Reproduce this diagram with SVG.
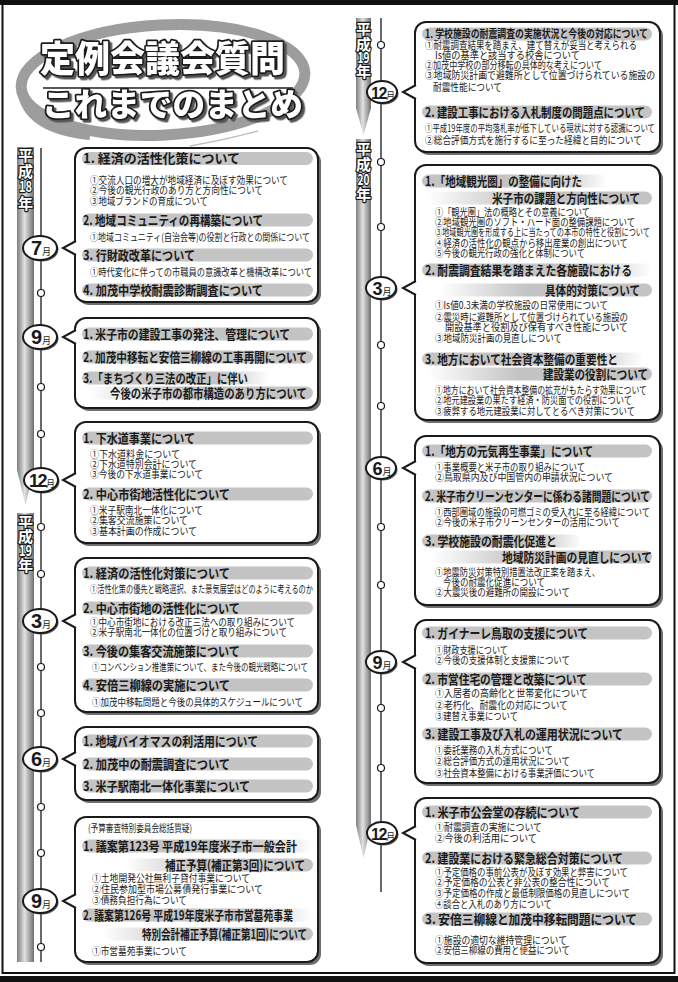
<svg xmlns="http://www.w3.org/2000/svg" width="678" height="982" viewBox="0 0 678 982">
<defs>
<style>
.box{fill:#fff;stroke:#1a1a1a;stroke-width:2}
.shd{fill:#6e6e6e}
.hb{fill:#c4c4c4}
.ht{font-family:"Noto Sans CJK JP","Noto Sans CJK SC",sans-serif;font-size:13px;font-weight:700;fill:#1a1a1a}
.hs{font-size:11px}
.it{font-family:"Noto Sans CJK JP","Noto Sans CJK SC",sans-serif;font-size:10.2px;fill:#1a1a1a}
.ptr{fill:none;stroke:#1a1a1a;stroke-width:2}
.tl{stroke:#1a1a1a;stroke-width:1.3;fill:none}
.dot{fill:#fff;stroke:#1a1a1a;stroke-width:1.2}
.mb{fill:#fff;stroke:#1a1a1a;stroke-width:2}
.mbs{fill:#555}
.mt{fill:#1a1a1a;text-anchor:middle;font-family:"Noto Sans CJK JP",sans-serif;font-size:9px}
.d{font-family:"Liberation Sans",sans-serif;font-weight:700}
.yr{font-family:"Noto Sans CJK JP",sans-serif;font-size:15px;font-weight:700;fill:#fff;stroke:#1a1a1a;stroke-width:2.4;paint-order:stroke;stroke-linejoin:round;text-anchor:middle}
.ttl{font-family:"Noto Sans CJK JP",sans-serif;font-weight:900;fill:#fff;stroke:#1a1a1a;stroke-width:3.5;paint-order:stroke;stroke-linejoin:round;filter:url(#ts)}
</style>
<filter id="ts" x="-5%" y="-20%" width="115%" height="150%">
<feDropShadow dx="2.5" dy="2.5" stdDeviation="0.4" flood-color="#555" flood-opacity="1"/>
</filter>
<linearGradient id="bar" x1="0" x2="1" y1="0" y2="0">
<stop offset="0" stop-color="#7d7d7d"/><stop offset="0.45" stop-color="#e2e2e2"/><stop offset="1" stop-color="#6f6f6f"/>
</linearGradient>
<linearGradient id="fadeR" x1="0" x2="1" y1="0" y2="0"><stop offset="0" stop-color="#c4c4c4"/><stop offset="0.72" stop-color="#c4c4c4"/><stop offset="1" stop-color="#c4c4c4" stop-opacity="0"/></linearGradient>
<linearGradient id="fadeL" x1="0" x2="1" y1="0" y2="0"><stop offset="0" stop-color="#c4c4c4" stop-opacity="0"/><stop offset="0.4" stop-color="#c4c4c4"/><stop offset="1" stop-color="#c4c4c4"/></linearGradient>
</defs>
<rect x="0" y="0" width="678" height="982" fill="#fff"/>
<g id="frame">
<rect x="0" y="0" width="678" height="5" fill="#111"/>
<rect x="0" y="976" width="678" height="6" fill="#111"/>
<rect x="2.5" y="4" width="672" height="969" fill="none" stroke="#111" stroke-width="2"/>
</g>

<g id="title">
<ellipse cx="163" cy="80" rx="142" ry="55" fill="none" stroke="#9d9d9d" stroke-width="11" transform="rotate(-3 163 80)"/>
<path d="M22,95 Q30,130 90,136" fill="none" stroke="#9d9d9d" stroke-width="8"/>
<path d="M190,146 Q225,140 258,131" fill="none" stroke="#bdbdbd" stroke-width="1.5"/>
<text class="ttl" x="40" y="72" font-size="36" textLength="245" lengthAdjust="spacingAndGlyphs">定例会議会質問</text>
<line x1="43" y1="88" x2="293" y2="88" stroke="#222" stroke-width="1.5"/>
<text class="ttl" x="42" y="116" font-size="32" textLength="261" lengthAdjust="spacingAndGlyphs">これまでのまとめ</text>
</g>

<g id="year-banners">
<path d="M17,147 H34 V470 L25.5,505 L17,470 Z" fill="url(#bar)"/>
<text class="yr" x="25.5" y="161">平</text>
<text class="yr" x="25.5" y="177">成</text>
<text class="yr" x="25.5" y="192" textLength="13" lengthAdjust="spacingAndGlyphs">18</text>
<text class="yr" x="25.5" y="209">年</text>
<path d="M17,513 H34 V962 H17 Z" fill="url(#bar)"/>
<text class="yr" x="25.5" y="528">平</text>
<text class="yr" x="25.5" y="542">成</text>
<text class="yr" x="25.5" y="556" textLength="13" lengthAdjust="spacingAndGlyphs">19</text>
<text class="yr" x="25.5" y="571">年</text>
<path d="M356,18 H371 V108 L363.5,135 L356,108 Z" fill="url(#bar)"/>
<text class="yr" x="363.5" y="35">平</text>
<text class="yr" x="363.5" y="50">成</text>
<text class="yr" x="363.5" y="63" textLength="12" lengthAdjust="spacingAndGlyphs">19</text>
<text class="yr" x="363.5" y="77">年</text>
<path d="M356,139 H371 V825 L363.5,858 L356,825 Z" fill="url(#bar)"/>
<text class="yr" x="363.5" y="155">平</text>
<text class="yr" x="363.5" y="170">成</text>
<text class="yr" x="363.5" y="185" textLength="12" lengthAdjust="spacingAndGlyphs">20</text>
<text class="yr" x="363.5" y="200">年</text>
</g>

<g id="connectors">
<line class="tl" x1="41" y1="148" x2="41" y2="962"/>
<line class="tl" x1="381" y1="18" x2="381" y2="892"/>
<circle class="dot" cx="41" cy="293" r="3.5"/>
<circle class="dot" cx="41" cy="387" r="3.5"/>
<circle class="dot" cx="41" cy="434" r="3.5"/>
<circle class="dot" cx="41" cy="527" r="3.5"/>
<circle class="dot" cx="41" cy="574" r="3.5"/>
<circle class="dot" cx="41" cy="667" r="3.5"/>
<circle class="dot" cx="41" cy="713" r="3.5"/>
<circle class="dot" cx="41" cy="807" r="3.5"/>
<circle class="dot" cx="41" cy="853" r="3.5"/>
<circle class="dot" cx="41" cy="947" r="3.5"/>
<circle class="dot" cx="381" cy="45" r="3.5"/>
<circle class="dot" cx="381" cy="162" r="3.5"/>
<circle class="dot" cx="381" cy="227" r="3.5"/>
<circle class="dot" cx="381" cy="345" r="3.5"/>
<circle class="dot" cx="381" cy="406" r="3.5"/>
<circle class="dot" cx="381" cy="527" r="3.5"/>
<circle class="dot" cx="381" cy="585" r="3.5"/>
<circle class="dot" cx="381" cy="708" r="3.5"/>
<circle class="dot" cx="381" cy="768" r="3.5"/>
</g>

<g id="months">
<g id="m-h18-7"><ellipse class="mbs" cx="41.5" cy="249.5" rx="17" ry="12"/><ellipse class="mb" cx="40" cy="248" rx="17" ry="12"/><text class="mt" x="41" y="255"><tspan class="d" font-size="20">7</tspan>月</text></g>
<g id="m-h18-9"><ellipse class="mbs" cx="41.5" cy="338.5" rx="17" ry="12"/><ellipse class="mb" cx="40" cy="337" rx="17" ry="12"/><text class="mt" x="41" y="344"><tspan class="d" font-size="20">9</tspan>月</text></g>
<g id="m-h18-12"><ellipse class="mbs" cx="42.5" cy="481.5" rx="17" ry="12"/><ellipse class="mb" cx="41" cy="480" rx="17" ry="12"/><text class="mt" x="42" y="487"><tspan class="d" font-size="18" letter-spacing="-1.5">12</tspan>月</text></g>
<g id="m-h19-3"><ellipse class="mbs" cx="41.5" cy="622.5" rx="17" ry="12"/><ellipse class="mb" cx="40" cy="621" rx="17" ry="12"/><text class="mt" x="41" y="628"><tspan class="d" font-size="20">3</tspan>月</text></g>
<g id="m-h19-6"><ellipse class="mbs" cx="41.5" cy="760.5" rx="17" ry="12"/><ellipse class="mb" cx="40" cy="759" rx="17" ry="12"/><text class="mt" x="41" y="766"><tspan class="d" font-size="20">6</tspan>月</text></g>
<g id="m-h19-9"><ellipse class="mbs" cx="41.5" cy="902.5" rx="17" ry="12"/><ellipse class="mb" cx="40" cy="901" rx="17" ry="12"/><text class="mt" x="41" y="908"><tspan class="d" font-size="20">9</tspan>月</text></g>
<g id="m-h19-12"><ellipse class="mbs" cx="383.5" cy="93.5" rx="15" ry="11"/><ellipse class="mb" cx="382" cy="92" rx="15" ry="11"/><text class="mt" x="383" y="98.5" font-size="8"><tspan class="d" font-size="16" letter-spacing="-1.5">12</tspan>月</text></g>
<g id="m-h20-3"><ellipse class="mbs" cx="382.5" cy="289.5" rx="15" ry="11"/><ellipse class="mb" cx="381" cy="288" rx="15" ry="11"/><text class="mt" x="382" y="294.5" font-size="8"><tspan class="d" font-size="18">3</tspan>月</text></g>
<g id="m-h20-6"><ellipse class="mbs" cx="382.5" cy="469.5" rx="15" ry="11"/><ellipse class="mb" cx="381" cy="468" rx="15" ry="11"/><text class="mt" x="382" y="474.5" font-size="8"><tspan class="d" font-size="18">6</tspan>月</text></g>
<g id="m-h20-9"><ellipse class="mbs" cx="382.5" cy="663.5" rx="15" ry="11"/><ellipse class="mb" cx="381" cy="662" rx="15" ry="11"/><text class="mt" x="382" y="668.5" font-size="8"><tspan class="d" font-size="18">9</tspan>月</text></g>
<g id="m-h20-12"><ellipse class="mbs" cx="383.5" cy="834.5" rx="15" ry="11"/><ellipse class="mb" cx="382" cy="833" rx="15" ry="11"/><text class="mt" x="383" y="839.5" font-size="8"><tspan class="d" font-size="16" letter-spacing="-1.5">12</tspan>月</text></g>
</g>

<g id="box-h18-7">
<rect class="shd" x="78" y="151" width="243" height="154" rx="11"/>
<rect class="box" x="75" y="148" width="243" height="154" rx="11"/>
<rect x="73" y="242" width="5" height="12" fill="#fff"/><polyline class="ptr" points="76,241 63,248 76,255"/>
<rect class="hb" x="82" y="152" width="231" height="13" rx="6.5"/>
<text class="ht" x="83" y="163.3" textLength="157" lengthAdjust="spacingAndGlyphs">1. 経済の活性化策について</text>
<text class="it" x="90" y="183.6" textLength="198" lengthAdjust="spacingAndGlyphs">①交流人口の増大が地域経済に及ぼす効果について</text>
<text class="it" x="90" y="193.6" textLength="173" lengthAdjust="spacingAndGlyphs">②今後の観光行政のあり方と方向性について</text>
<text class="it" x="90" y="204.6" textLength="118" lengthAdjust="spacingAndGlyphs">③地域ブランドの育成について</text>
<rect class="hb" x="82" y="213.5" width="231" height="13" rx="6.5"/>
<text class="ht" x="83" y="224.8" textLength="180" lengthAdjust="spacingAndGlyphs">2. 地域コミュニティの再構築について</text>
<text class="it" x="90" y="240.6" textLength="220" lengthAdjust="spacingAndGlyphs">①地域コミュニティ(自治会等)の役割と行政との関係について</text>
<rect class="hb" x="82" y="248.5" width="231" height="13" rx="6.5"/>
<text class="ht" x="83" y="259.8" textLength="112" lengthAdjust="spacingAndGlyphs">3. 行財政改革について</text>
<text class="it" x="90" y="275.6" textLength="222" lengthAdjust="spacingAndGlyphs">①時代変化に伴っての市職員の意識改革と機構改革について</text>
<rect class="hb" x="82" y="283.5" width="231" height="13" rx="6.5"/>
<text class="ht" x="83" y="294.8" textLength="180" lengthAdjust="spacingAndGlyphs">4. 加茂中学校耐震診断調査について</text>
</g>

<g id="box-h18-9">
<rect class="shd" x="78" y="321" width="243" height="90" rx="11"/>
<rect class="box" x="75" y="318" width="243" height="90" rx="11"/>
<rect x="73" y="331" width="5" height="12" fill="#fff"/><polyline class="ptr" points="76,330 63,337 76,344"/>
<rect class="hb" x="82" y="327.5" width="231" height="13" rx="6.5"/>
<text class="ht" x="83" y="338.8" textLength="207" lengthAdjust="spacingAndGlyphs">1. 米子市の建設工事の発注、管理について</text>
<rect class="hb" x="82" y="350.5" width="231" height="13" rx="6.5"/>
<text class="ht" x="83" y="361.8" textLength="224" lengthAdjust="spacingAndGlyphs">2. 加茂中移転と安倍三柳線の工事再開について</text>
<rect x="82" y="371.5" width="188" height="13" rx="6.5" fill="url(#fadeR)"/>
<text class="ht" x="83" y="382.8" textLength="165" lengthAdjust="spacingAndGlyphs">3.「まちづくり三法の改正」に伴い</text>
<rect x="88" y="386.5" width="225" height="13" rx="6.5" fill="url(#fadeL)"/>
<text class="ht" x="110" y="397.8" textLength="197" lengthAdjust="spacingAndGlyphs">今後の米子市の都市構造のあり方について</text>
</g>

<g id="box-h18-12">
<rect class="shd" x="78" y="425" width="243" height="121" rx="11"/>
<rect class="box" x="75" y="422" width="243" height="121" rx="11"/>
<rect x="73" y="474" width="5" height="12" fill="#fff"/><polyline class="ptr" points="76,473 63,480 76,487"/>
<rect class="hb" x="82" y="431.5" width="231" height="13" rx="6.5"/>
<text class="ht" x="83" y="442.8" textLength="112" lengthAdjust="spacingAndGlyphs">1. 下水道事業について</text>
<text class="it" x="90" y="457.6" font-size="9.5" textLength="90" lengthAdjust="spacingAndGlyphs">①下水道料金について</text>
<text class="it" x="90" y="468.4" font-size="9.5" textLength="107" lengthAdjust="spacingAndGlyphs">②下水道特別会計について</text>
<text class="it" x="90" y="478.4" font-size="9.5" textLength="113" lengthAdjust="spacingAndGlyphs">③今後の下水道事業について</text>
<rect class="hb" x="82" y="487.5" width="231" height="13" rx="6.5"/>
<text class="ht" x="83" y="498.8" textLength="147" lengthAdjust="spacingAndGlyphs">2. 中心市街地活性化について</text>
<text class="it" x="90" y="513.6" textLength="113" lengthAdjust="spacingAndGlyphs">①米子駅南北一体化について</text>
<text class="it" x="90" y="523.6" textLength="98" lengthAdjust="spacingAndGlyphs">②集客交流施策について</text>
<text class="it" x="90" y="534.6" textLength="107" lengthAdjust="spacingAndGlyphs">③基本計画の作成について</text>
</g>

<g id="box-h19-3">
<rect class="shd" x="78" y="561" width="243" height="154" rx="11"/>
<rect class="box" x="75" y="558" width="243" height="154" rx="11"/>
<rect x="73" y="615" width="5" height="12" fill="#fff"/><polyline class="ptr" points="76,614 63,621 76,628"/>
<rect class="hb" x="82" y="566.5" width="231" height="13" rx="6.5"/>
<text class="ht" x="83" y="577.8" textLength="147" lengthAdjust="spacingAndGlyphs">1. 経済の活性化対策について</text>
<text class="it" x="90" y="592.6" textLength="223" lengthAdjust="spacingAndGlyphs">①活性化策の優先と戦略選択、また景気展望はどのように考えるのか</text>
<rect class="hb" x="82" y="601.5" width="231" height="13" rx="6.5"/>
<text class="ht" x="83" y="612.8" textLength="157" lengthAdjust="spacingAndGlyphs">2. 中心市街地の活性化について</text>
<text class="it" x="90" y="625.6" textLength="205" lengthAdjust="spacingAndGlyphs">①中心市街地における改正三法への取り組みについて</text>
<text class="it" x="90" y="635.6" textLength="197" lengthAdjust="spacingAndGlyphs">②米子駅南北一体化の位置づけと取り組みについて</text>
<rect class="hb" x="82" y="644.5" width="231" height="13" rx="6.5"/>
<text class="ht" x="83" y="655.8" textLength="157" lengthAdjust="spacingAndGlyphs">3. 今後の集客交流施策について</text>
<text class="it" x="92" y="670.6" textLength="216" lengthAdjust="spacingAndGlyphs">①コンベンション推進策について、また今後の観光戦略について</text>
<rect class="hb" x="82" y="678.5" width="231" height="13" rx="6.5"/>
<text class="ht" x="83" y="689.8" textLength="147" lengthAdjust="spacingAndGlyphs">4. 安倍三柳線の実施について</text>
<text class="it" x="92" y="705.6" textLength="211" lengthAdjust="spacingAndGlyphs">①加茂中移転問題と今後の具体的スケジュールについて</text>
</g>

<g id="box-h19-6">
<rect class="shd" x="78" y="730" width="243" height="73" rx="11"/>
<rect class="box" x="75" y="727" width="243" height="73" rx="11"/>
<rect x="73" y="753" width="5" height="12" fill="#fff"/><polyline class="ptr" points="76,752 63,759 76,766"/>
<rect class="hb" x="82" y="734.5" width="231" height="13" rx="6.5"/>
<text class="ht" x="83" y="745.8" textLength="175" lengthAdjust="spacingAndGlyphs">1. 地域バイオマスの利活用について</text>
<rect class="hb" x="82" y="757.5" width="231" height="13" rx="6.5"/>
<text class="ht" x="83" y="768.8" textLength="147" lengthAdjust="spacingAndGlyphs">2. 加茂中の耐震調査について</text>
<rect class="hb" x="82" y="779.5" width="231" height="13" rx="6.5"/>
<text class="ht" x="83" y="790.8" textLength="167" lengthAdjust="spacingAndGlyphs">3. 米子駅南北一体化事業について</text>
</g>

<g id="box-h19-9">
<rect class="shd" x="78" y="820" width="243" height="145" rx="11"/>
<rect class="box" x="75" y="817" width="243" height="145" rx="11"/>
<rect x="73" y="895" width="5" height="12" fill="#fff"/><polyline class="ptr" points="76,894 63,901 76,908"/>
<text class="it" x="88" y="832.2" font-size="8.5" textLength="104" lengthAdjust="spacingAndGlyphs">(予算審査特別委員会総括質疑)</text>
<rect x="82" y="839.5" width="231" height="13" rx="6.5" fill="url(#fadeR)"/>
<text class="ht" x="83" y="850.8" textLength="214" lengthAdjust="spacingAndGlyphs">1. 議案第123号 平成19年度米子市一般会計</text>
<rect x="125" y="858.5" width="188" height="13" rx="6.5" fill="url(#fadeL)"/>
<text class="ht" x="165" y="869.8" textLength="140" lengthAdjust="spacingAndGlyphs">補正予算(補正第3回)について</text>
<text class="it" x="92" y="881.6" textLength="158" lengthAdjust="spacingAndGlyphs">①土地開発公社無利子貸付事業について</text>
<text class="it" x="92" y="892.6" textLength="171" lengthAdjust="spacingAndGlyphs">②住民参加型市場公募債発行事業について</text>
<text class="it" x="92" y="903.6" textLength="95" lengthAdjust="spacingAndGlyphs">③債務負担行為について</text>
<rect x="82" y="908.5" width="231" height="13" rx="6.5" fill="url(#fadeR)"/>
<text class="ht" x="83" y="919.8" textLength="210" lengthAdjust="spacingAndGlyphs">2. 議案第126号 平成19年度米子市市営墓苑事業</text>
<rect x="102" y="927.5" width="211" height="13" rx="6.5" fill="url(#fadeL)"/>
<text class="ht" x="142" y="938.8" textLength="165" lengthAdjust="spacingAndGlyphs">特別会計補正予算(補正第1回)について</text>
<text class="it" x="92" y="954.6" textLength="95" lengthAdjust="spacingAndGlyphs">①市営墓苑事業について</text>
</g>

<g id="box-h19-12">
<rect class="shd" x="418" y="25" width="245" height="130" rx="11"/>
<rect class="box" x="415" y="22" width="245" height="130" rx="11"/>
<rect x="413" y="86" width="5" height="12" fill="#fff"/><polyline class="ptr" points="416,85 403,92 416,99"/>
<rect class="hb" x="422" y="27.5" width="230" height="13" rx="6.5"/>
<text class="ht hs" x="425" y="38" textLength="223" lengthAdjust="spacingAndGlyphs">1. 学校施設の耐震調査の実施状況と今後の対応について</text>
<text class="it" x="425" y="48.6" textLength="212" lengthAdjust="spacingAndGlyphs">①耐震調査結果を踏まえ、建て替えが妥当と考えられる</text>
<text class="it" x="435" y="58.6" textLength="145" lengthAdjust="spacingAndGlyphs">Is値の基準と該当する校舎について</text>
<text class="it" x="425" y="68.6" textLength="177" lengthAdjust="spacingAndGlyphs">②加茂中学校の部分移転の具体的な考えについて</text>
<text class="it" x="425" y="78.6" textLength="230" lengthAdjust="spacingAndGlyphs">③地域防災計画で避難所として位置づけられている施設の</text>
<text class="it" x="433" y="90.6" textLength="69" lengthAdjust="spacingAndGlyphs">耐震性能について</text>
<rect class="hb" x="422" y="105.5" width="230" height="13" rx="6.5"/>
<text class="ht" x="425" y="116.8" textLength="220" lengthAdjust="spacingAndGlyphs">2. 建設工事における入札制度の問題点について</text>
<text class="it" x="425" y="131.6" textLength="230" lengthAdjust="spacingAndGlyphs">①平成19年度の平均落札率が低下している現状に対する認識について</text>
<text class="it" x="425" y="143.6" textLength="217" lengthAdjust="spacingAndGlyphs">②総合評価方式を施行するに至った経緯と目的について</text>
</g>

<g id="box-h20-3">
<rect class="shd" x="418" y="168" width="245" height="255" rx="11"/>
<rect class="box" x="415" y="165" width="245" height="255" rx="11"/>
<rect x="413" y="282" width="5" height="12" fill="#fff"/><polyline class="ptr" points="416,281 403,288 416,295"/>
<rect x="422" y="174.5" width="185" height="13" rx="6.5" fill="url(#fadeR)"/>
<text class="ht" x="425" y="185.8" textLength="157" lengthAdjust="spacingAndGlyphs">1.「地域観光圏」の整備に向けた</text>
<rect x="428" y="191.5" width="224" height="13" rx="6.5" fill="url(#fadeL)"/>
<text class="ht" x="492" y="202.8" textLength="148" lengthAdjust="spacingAndGlyphs">米子市の課題と方向性について</text>
<text class="it" x="435" y="215.6" textLength="155" lengthAdjust="spacingAndGlyphs">①「観光圏」法の概略とその意義について</text>
<text class="it" x="435" y="225.6" textLength="200" lengthAdjust="spacingAndGlyphs">②地域観光圏のソフト・ハード面の整備課題について</text>
<text class="it" x="435" y="235.6" textLength="215" lengthAdjust="spacingAndGlyphs">③地域観光圏を形成する上に当たっての本市の特性と役割について</text>
<text class="it" x="435" y="246.6" textLength="193" lengthAdjust="spacingAndGlyphs">④経済の活性化の観点から移出産業の創出について</text>
<text class="it" x="435" y="256.6" textLength="150" lengthAdjust="spacingAndGlyphs">⑤今後の観光行政の強化と体制について</text>
<rect x="422" y="263.5" width="230" height="13" rx="6.5" fill="url(#fadeR)"/>
<text class="ht" x="425" y="274.8" textLength="207" lengthAdjust="spacingAndGlyphs">2. 耐震調査結果を踏まえた各施設における</text>
<rect x="440" y="283.5" width="212" height="13" rx="6.5" fill="url(#fadeL)"/>
<text class="ht" x="545" y="294.8" textLength="95" lengthAdjust="spacingAndGlyphs">具体的対策について</text>
<text class="it" x="435" y="308.6" textLength="173" lengthAdjust="spacingAndGlyphs">①Is値0.3未満の学校施設の日常使用について</text>
<text class="it" x="435" y="320.6" textLength="193" lengthAdjust="spacingAndGlyphs">②震災時に避難所として位置づけられている施設の</text>
<text class="it" x="445" y="330.6" textLength="183" lengthAdjust="spacingAndGlyphs">開設基準と役割及び保有すべき性能について</text>
<text class="it" x="435" y="341.6" textLength="127" lengthAdjust="spacingAndGlyphs">③地域防災計画の見直しについて</text>
<rect x="422" y="352.5" width="222" height="13" rx="6.5" fill="url(#fadeR)"/>
<text class="ht" x="425" y="363.8" textLength="193" lengthAdjust="spacingAndGlyphs">3. 地方において社会資本整備の重要性と</text>
<rect x="428" y="367.5" width="224" height="13" rx="6.5" fill="url(#fadeL)"/>
<text class="ht" x="543" y="378.8" textLength="105" lengthAdjust="spacingAndGlyphs">建設業の役割について</text>
<text class="it" x="435" y="393.6" textLength="212" lengthAdjust="spacingAndGlyphs">①地方において社会資本整備の拡充がもたらす効果について</text>
<text class="it" x="435" y="403.6" textLength="197" lengthAdjust="spacingAndGlyphs">②地元建設業の果たす経済・防災面での役割について</text>
<text class="it" x="435" y="414.6" textLength="200" lengthAdjust="spacingAndGlyphs">③疲弊する地元建設業に対してとるべき対策について</text>
</g>

<g id="box-h20-6">
<rect class="shd" x="418" y="439" width="245" height="169" rx="11"/>
<rect class="box" x="415" y="436" width="245" height="169" rx="11"/>
<rect x="413" y="462" width="5" height="12" fill="#fff"/><polyline class="ptr" points="416,461 403,468 416,475"/>
<rect class="hb" x="422" y="444.5" width="230" height="13" rx="6.5"/>
<text class="ht" x="425" y="455.8" textLength="168" lengthAdjust="spacingAndGlyphs">1.「地方の元気再生事業」について</text>
<text class="it" x="435" y="470.6" textLength="150" lengthAdjust="spacingAndGlyphs">①事業概要と米子市の取り組みについて</text>
<text class="it" x="435" y="480.6" textLength="178" lengthAdjust="spacingAndGlyphs">②鳥取県内及び中国管内の申請状況について</text>
<rect class="hb" x="422" y="489.5" width="230" height="13" rx="6.5"/>
<text class="ht" x="425" y="500.8" textLength="225" lengthAdjust="spacingAndGlyphs">2. 米子市クリーンセンターに係わる諸問題について</text>
<text class="it" x="435" y="515.6" textLength="215" lengthAdjust="spacingAndGlyphs">①西部圏域の施設の可燃ゴミの受入れに至る経緯について</text>
<text class="it" x="435" y="525.6" textLength="185" lengthAdjust="spacingAndGlyphs">②今後の米子市クリーンセンターの活用について</text>
<rect x="422" y="534.5" width="160" height="13" rx="6.5" fill="url(#fadeR)"/>
<text class="ht" x="425" y="545.8" textLength="132" lengthAdjust="spacingAndGlyphs">3. 学校施設の耐震化促進と</text>
<rect x="432" y="550.5" width="220" height="13" rx="6.5" fill="url(#fadeL)"/>
<text class="ht" x="502" y="561.8" textLength="150" lengthAdjust="spacingAndGlyphs">地域防災計画の見直しについて</text>
<text class="it" x="435" y="575.6" textLength="165" lengthAdjust="spacingAndGlyphs">①地震防災対策特別措置法改正案を踏まえ、</text>
<text class="it" x="443" y="585.6" textLength="102" lengthAdjust="spacingAndGlyphs">今後の耐震化促進について</text>
<text class="it" x="435" y="595.6" textLength="135" lengthAdjust="spacingAndGlyphs">②大震災後の避難所の開設について</text>
</g>

<g id="box-h20-9">
<rect class="shd" x="418" y="623" width="245" height="163" rx="11"/>
<rect class="box" x="415" y="620" width="245" height="163" rx="11"/>
<rect x="413" y="656" width="5" height="12" fill="#fff"/><polyline class="ptr" points="416,655 403,662 416,669"/>
<rect class="hb" x="422" y="626.5" width="230" height="13" rx="6.5"/>
<text class="ht" x="425" y="637.8" textLength="163" lengthAdjust="spacingAndGlyphs">1. ガイナーレ鳥取の支援について</text>
<text class="it" x="435" y="653.6" textLength="73" lengthAdjust="spacingAndGlyphs">①財政支援について</text>
<text class="it" x="435" y="663.6" textLength="135" lengthAdjust="spacingAndGlyphs">②今後の支援体制と支援策について</text>
<rect class="hb" x="422" y="672.5" width="230" height="13" rx="6.5"/>
<text class="ht" x="425" y="683.8" textLength="162" lengthAdjust="spacingAndGlyphs">2. 市営住宅の管理と改築について</text>
<text class="it" x="435" y="696.6" textLength="153" lengthAdjust="spacingAndGlyphs">①入居者の高齢化と世帯変化について</text>
<text class="it" x="435" y="708.6" textLength="133" lengthAdjust="spacingAndGlyphs">②老朽化、耐震化の対応について</text>
<text class="it" x="435" y="719.6" textLength="83" lengthAdjust="spacingAndGlyphs">③建替え事業について</text>
<rect class="hb" x="422" y="727.5" width="230" height="13" rx="6.5"/>
<text class="ht" x="425" y="738.8" textLength="198" lengthAdjust="spacingAndGlyphs">3. 建設工事及び入札の運用状況について</text>
<text class="it" x="435" y="753.6" textLength="118" lengthAdjust="spacingAndGlyphs">①委託業務の入札方式について</text>
<text class="it" x="435" y="764.6" textLength="135" lengthAdjust="spacingAndGlyphs">②総合評価方式の運用状況について</text>
<text class="it" x="435" y="776.6" textLength="160" lengthAdjust="spacingAndGlyphs">③社会資本整備における事業評価について</text>
</g>

<g id="box-h20-12">
<rect class="shd" x="418" y="801" width="245" height="165" rx="11"/>
<rect class="box" x="415" y="798" width="245" height="165" rx="11"/>
<rect x="413" y="827" width="5" height="12" fill="#fff"/><polyline class="ptr" points="416,826 403,833 416,840"/>
<rect class="hb" x="422" y="805.5" width="230" height="13" rx="6.5"/>
<text class="ht" x="425" y="816.8" textLength="155" lengthAdjust="spacingAndGlyphs">1. 米子市公会堂の存続について</text>
<text class="it" x="435" y="830.6" textLength="107" lengthAdjust="spacingAndGlyphs">①耐震調査の実施について</text>
<text class="it" x="435" y="841.6" textLength="102" lengthAdjust="spacingAndGlyphs">②今後の利活用について</text>
<rect class="hb" x="422" y="851.5" width="230" height="13" rx="6.5"/>
<text class="ht" x="425" y="862.8" textLength="198" lengthAdjust="spacingAndGlyphs">2. 建設業における緊急総合対策について</text>
<text class="it" x="435" y="875.6" textLength="193" lengthAdjust="spacingAndGlyphs">①予定価格の事前公表が及ぼす効果と弊害について</text>
<text class="it" x="435" y="885.6" textLength="175" lengthAdjust="spacingAndGlyphs">②予定価格の公表と非公表の整合性について</text>
<text class="it" x="435" y="896.6" textLength="195" lengthAdjust="spacingAndGlyphs">③予定価格の作成と最低制限価格の見直しについて</text>
<text class="it" x="435" y="907.6" textLength="117" lengthAdjust="spacingAndGlyphs">④談合と入札のあり方について</text>
<rect class="hb" x="422" y="912.5" width="230" height="13" rx="6.5"/>
<text class="ht" x="425" y="923.8" textLength="212" lengthAdjust="spacingAndGlyphs">3. 安倍三柳線と加茂中移転問題について</text>
<text class="it" x="435" y="943.6" textLength="132" lengthAdjust="spacingAndGlyphs">①施設の適切な維持管理について</text>
<text class="it" x="435" y="953.6" textLength="135" lengthAdjust="spacingAndGlyphs">②安倍三柳線の費用と便益について</text>
</g>
</svg>
